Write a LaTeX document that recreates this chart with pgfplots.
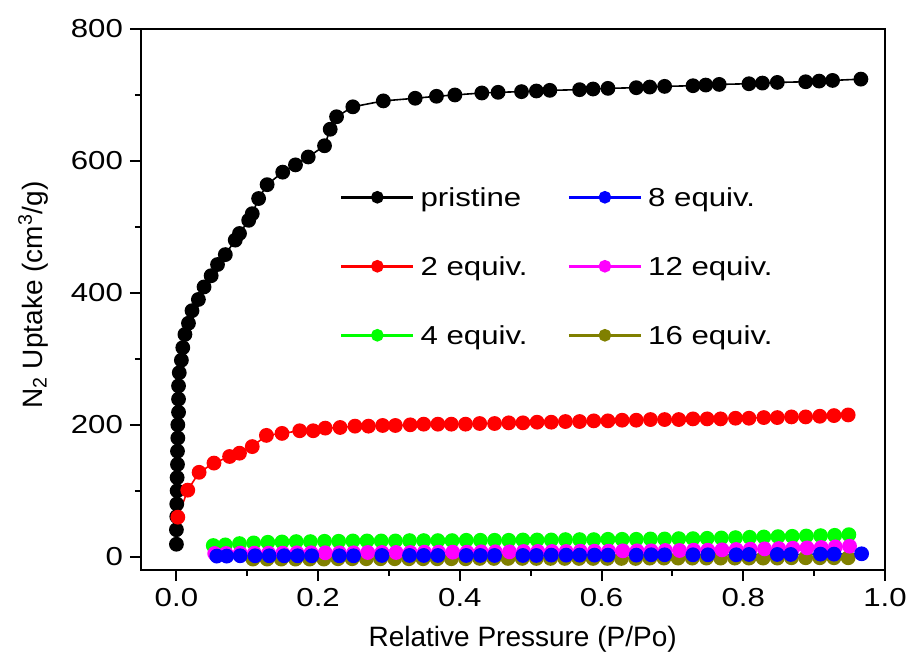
\documentclass[border=0pt]{standalone}
\usepackage{fontspec}
\setmainfont{Liberation Sans}
\newfontfamily\wide[FakeStretch=1.2]{Liberation Sans}
\usepackage{pgfplots}
\pgfplotsset{compat=1.18}
\definecolor{oliveC}{RGB}{128,128,0}
\definecolor{greenC}{RGB}{0,255,0}
\definecolor{magC}{RGB}{255,0,255}
\begin{document}
\begin{tikzpicture}
\begin{axis}[
  name=ax,
  scale only axis,
  width=372pt, height=270.5pt,
  xmin=-0.05, xmax=1.0, ymin=-20, ymax=800,
  xtick={0,0.2,0.4,0.6,0.8,1.0},
  minor xtick={0.1,0.3,0.5,0.7,0.9},
  ytick={0,200,400,600,800},
  minor ytick={100,300,500,700},
  tick pos=left, tick align=outside,
  major tick length=5.5pt, minor tick length=3pt,
  tick style={line width=1pt, black},
  axis line style={line width=1pt},
  /pgf/number format/assume math mode=true,
  tick label style={font=\wide\fontsize{13}{15}\selectfont},
  xticklabel style={/pgf/number format/fixed, /pgf/number format/fixed zerofill, /pgf/number format/precision=1},
  yticklabel style={/pgf/number format/fixed},
  xlabel={Relative Pressure (P/Po)},
  ylabel={N\textsubscript{2} Uptake (cm\textsuperscript{3}/g)},
  label style={font=\fontsize{14}{16}\selectfont},
  xlabel style={at={(axis description cs:0.513,-0.129)}, anchor=center},
  ylabel style={at={(axis description cs:-0.145,0.508)}, anchor=center},
  legend columns=2,
  legend cell align=left,
  legend image code/.code={\draw[mark repeat=2,mark phase=2,#1] plot coordinates {(0pt,0pt) (18pt,0pt) (36pt,0pt)};},
  legend style={draw=none, fill=none, inner sep=0pt,
    at={(axis description cs:0.267,0.710)}, anchor=north west,
    font=\wide\fontsize{13}{15}\selectfont,
    nodes={inner sep=0pt, text height=10pt, text depth=1pt},
    row sep=23.5pt,
    /tikz/every odd column/.append style={column sep=3pt},
    /tikz/every even column/.append style={column sep=20pt}},
  every axis plot/.append style={line width=0.8pt, mark=*, mark size=3.3pt, mark options={solid}},
]
% pristine
\addplot[black, forget plot] coordinates {
(0,19)(0,41)(0.0005,61)(0.0005,80)(0.001,100)(0.001,120)(0.0015,140)(0.0015,160)(0.002,180)(0.002,200)
(0.003,219)(0.003,239)(0.003,259)(0.004,279)(0.007,298)(0.009,317)(0.012,337)(0.017,354)(0.022,373)(0.031,390)
(0.039,409)(0.049,426)(0.058,443)(0.069,458)(0.083,480)(0.089,490)(0.102,510)(0.107,520)(0.116,543)(0.128,564)
(0.150,583)(0.168,594)(0.186,606)(0.209,623)(0.217,648)(0.226,667)(0.249,682)(0.292,691)(0.337,695)(0.367,698)
(0.393,700)(0.431,703)(0.454,704)(0.487,705)(0.508,706)(0.527,707)(0.569,708)(0.588,709)(0.609,710)(0.649,711)
(0.668,712)(0.689,713)(0.729,714)(0.747,715)(0.766,716)(0.808,717)(0.827,718)(0.848,719)(0.888,720)(0.907,721)
(0.926,722)(0.966,724)};
% 2 equiv
\addplot[red, forget plot] coordinates {
(0.002,60)(0.016,101)(0.032,128)(0.053,142)(0.075,152)(0.089,157)(0.107,167)(0.127,184)(0.149,187)(0.174,191)
(0.193,191)(0.210,195)(0.231,196)(0.252,198)(0.271,198)(0.291,199)(0.309,199)(0.330,200)(0.349,201)(0.369,201)
(0.388,201)(0.408,201)(0.428,202)(0.449,202)(0.469,203)(0.489,203)(0.509,204)(0.529,204)(0.549,205)(0.569,205)
(0.589,206)(0.609,206)(0.629,207)(0.649,207)(0.669,208)(0.689,208)(0.709,208)(0.729,209)(0.749,209)(0.768,209)
(0.789,210)(0.808,210)(0.829,211)(0.848,211)(0.868,212)(0.888,212)(0.908,213)(0.928,214)(0.948,215)};
% 4 equiv
\addplot[greenC, forget plot] coordinates {
(0.052,17)(0.069,18)(0.089,20)(0.109,21)(0.129,22)(0.149,22.5)(0.169,23)(0.189,23)(0.209,23.5)(0.229,23.5)
(0.249,24)(0.269,24)(0.289,24)(0.309,24)(0.329,24.5)(0.349,24.5)(0.369,24.5)(0.389,24.5)(0.409,25)(0.429,25)
(0.449,25)(0.469,25)(0.489,25.5)(0.509,25.5)(0.529,25.5)(0.549,26)(0.569,26)(0.589,26)(0.609,26.5)(0.629,26.5)
(0.649,26.5)(0.669,27)(0.689,27)(0.709,27.5)(0.729,27.5)(0.749,28)(0.769,28.5)(0.789,29)(0.809,29.5)(0.829,30)
(0.849,30.5)(0.869,31)(0.889,31.5)(0.909,32)(0.929,32.5)(0.949,33.5)};
% 16 equiv
\addplot[oliveC, forget plot] coordinates {
(0.108,-3.5)(0.128,-3.5)(0.148,-3.5)(0.168,-3.5)(0.188,-3.5)(0.208,-3.5)(0.228,-3)(0.248,-3)(0.268,-3)(0.288,-3)
(0.308,-3)(0.328,-3)(0.348,-3)(0.368,-3)(0.388,-3)(0.408,-3)(0.428,-2.5)(0.448,-2.5)(0.468,-2.5)(0.488,-2.5)
(0.508,-2.5)(0.528,-2.5)(0.548,-2.5)(0.568,-2.5)(0.588,-2.5)(0.608,-2.5)(0.628,-2.5)(0.648,-2.5)(0.668,-2)(0.688,-2)
(0.708,-2)(0.728,-2)(0.748,-2)(0.768,-2)(0.788,-2)(0.808,-2)(0.828,-2)(0.848,-2)(0.868,-1.5)(0.888,-1.5)
(0.908,-1.5)(0.928,-1.5)(0.948,-1.5)};
% 12 equiv
\addplot[magC, forget plot] coordinates {
(0.054,5)(0.070,5)(0.090,5.5)(0.110,5.5)(0.130,5.5)(0.150,5.5)(0.170,6)(0.190,6)(0.210,6)(0.230,6)
(0.250,6)(0.270,6.5)(0.290,6.5)(0.310,6.5)(0.330,6.5)(0.350,7)(0.370,7)(0.390,7)(0.410,7)(0.430,7.5)
(0.450,7.5)(0.470,7.5)(0.490,8)(0.510,8)(0.530,8)(0.550,8)(0.570,8.5)(0.590,8.5)(0.610,8.5)(0.630,9)
(0.650,9)(0.670,9)(0.690,9.5)(0.710,9.5)(0.730,10)(0.750,10)(0.770,10.5)(0.790,11)(0.810,11.5)(0.830,12)
(0.850,12.5)(0.870,13)(0.890,13.5)(0.910,14)(0.930,15)(0.950,16)};
% 8 equiv
\addplot[blue, forget plot] coordinates {
(0.057,1)(0.071,1)(0.090,1.5)(0.111,1.5)(0.131,1.5)(0.152,1.5)(0.171,1.5)(0.191,1.5)(0.230,1.5)(0.250,1.5)
(0.290,2)(0.329,2)(0.349,2)(0.369,2)(0.409,2)(0.429,2)(0.449,2)(0.489,2)(0.508,2)(0.529,2.5)
(0.550,2.5)(0.569,2.5)(0.590,2.5)(0.609,2.5)(0.649,2.5)(0.670,3)(0.689,3)(0.729,3)(0.750,3)(0.790,3)
(0.808,3.5)(0.848,3.5)(0.867,3.5)(0.909,4)(0.928,4)(0.967,4.5)};
% legend
\addlegendimage{black, line width=1.3pt, mark=*, mark size=2.5pt}
\addlegendentry{pristine}
\addlegendimage{blue, line width=1.3pt, mark=*, mark size=2.5pt}
\addlegendentry{8 equiv.}
\addlegendimage{red, line width=1.3pt, mark=*, mark size=2.5pt}
\addlegendentry{2 equiv.}
\addlegendimage{magC, line width=1.3pt, mark=*, mark size=2.5pt}
\addlegendentry{12 equiv.}
\addlegendimage{greenC, line width=1.3pt, mark=*, mark size=2.5pt}
\addlegendentry{4 equiv.}
\addlegendimage{oliveC, line width=1.3pt, mark=*, mark size=2.5pt}
\addlegendentry{16 equiv.}
\end{axis}
\pgfresetboundingbox
\path (ax.south west) ++(-70.5pt,-43pt) coordinate (bbA);
\path (ax.north east) ++(13pt,14.5pt) coordinate (bbB);
\useasboundingbox (bbA) rectangle (bbB);
\end{tikzpicture}
\end{document}
